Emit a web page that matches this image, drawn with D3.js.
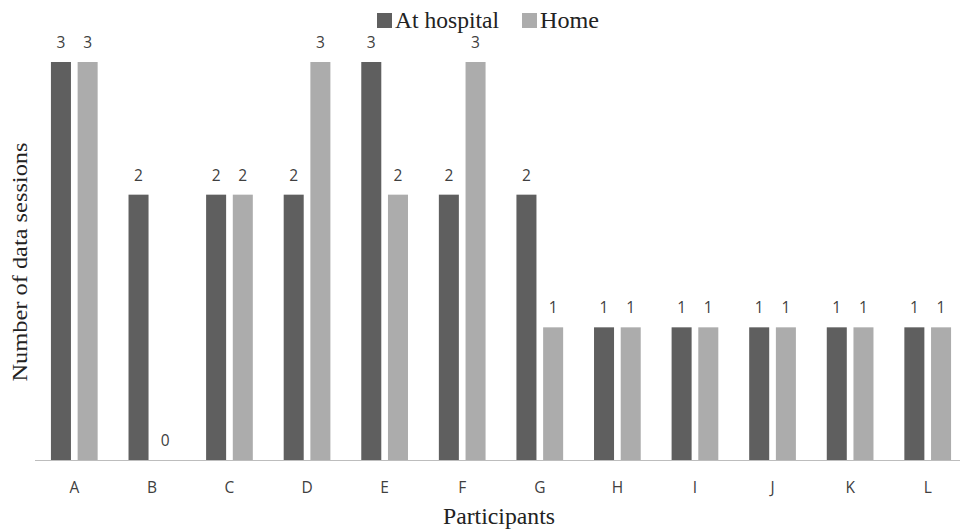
<!DOCTYPE html>
<html><head><meta charset="utf-8">
<script src="https://cdn.jsdelivr.net/npm/d3@7"></script>
<style>body{margin:0;background:#fff}</style>
</head><body>
<svg id="c" width="960" height="529"></svg>
<script>
const categories = ["A","B","C","D","E","F","G","H","I","J","K","L"];
const seriesNames = ["At hospital","Home"];
const atHospital = [3,2,2,2,3,2,2,1,1,1,1,1];
const home = [3,0,2,3,2,3,1,1,1,1,1,1];
const colors = ["#5f5f5f","#acacac"];

const svg = d3.select("#c");
const x0 = d3.scaleBand().domain(categories).range([35.5, 966.5]).paddingInner(0.398).paddingOuter(0.199);
const x1 = d3.scaleBand().domain(seriesNames).range([0, x0.bandwidth()]).paddingInner(0.25);
const y = d3.scaleLinear().domain([0,3]).range([460, 62]);

const data = categories.map((c,i)=>({cat:c, vals:[atHospital[i], home[i]]}));

const g = svg.append("g");
const grp = g.selectAll("g.grp").data(data).enter().append("g")
  .attr("transform", d=>`translate(${x0(d.cat)},0)`);
grp.selectAll("rect").data(d=>d.vals.map((v,j)=>({v, s:seriesNames[j], j})))
  .enter().append("rect")
  .attr("x", d=>x1(d.s)).attr("width", x1.bandwidth())
  .attr("y", d=>y(d.v)).attr("height", d=>y(0)-y(d.v))
  .attr("fill", d=>colors[d.j]);
grp.selectAll("text").data(d=>d.vals.map((v,j)=>({v, s:seriesNames[j], j})))
  .enter().append("text")
  .attr("x", d=>x1(d.s)+x1.bandwidth()/2).attr("y", d=>y(d.v)-14)
  .attr("text-anchor","middle")
  .attr("font-family","Open Sans, sans-serif").attr("font-size",15.5).attr("fill","#404040")
  .text(d=>d.v);

// axis line
svg.append("line").attr("x1",35).attr("x2",960).attr("y1",460.5).attr("y2",460.5)
  .attr("stroke","#bdbdbd").attr("stroke-width",1.2);

const xAxis = d3.axisBottom(x0).tickSize(0).tickPadding(0);
const ax = svg.append("g").attr("transform","translate(0,460)").call(xAxis);
ax.select(".domain").remove();
ax.selectAll("text").attr("dy",null).attr("y",33)
  .attr("font-family","Open Sans, sans-serif").attr("font-size",15.5).attr("fill","#404040");

svg.append("text").attr("x",499).attr("y",524).attr("text-anchor","middle")
  .attr("font-family","Liberation Serif, serif").attr("font-size",23).attr("fill","#222")
  .attr("textLength",112).attr("lengthAdjust","spacingAndGlyphs")
  .text("Participants");
svg.append("text").attr("transform","translate(27,262) rotate(-90)").attr("text-anchor","middle")
  .attr("font-family","Liberation Serif, serif").attr("font-size",22).attr("fill","#222")
  .attr("textLength",239).attr("lengthAdjust","spacingAndGlyphs")
  .text("Number of data sessions");

// legend
const leg = svg.append("g");
const legX = [377, 522];
const legW = [104, 59];
seriesNames.forEach((s,i)=>{
  leg.append("rect").attr("x",legX[i]).attr("y",13).attr("width",15).attr("height",15).attr("fill",colors[i]);
  leg.append("text").attr("x",legX[i]+18).attr("y",28)
    .attr("font-family","Liberation Serif, serif").attr("font-size",23).attr("fill","#222")
    .attr("textLength",legW[i]).attr("lengthAdjust","spacingAndGlyphs").text(s);
});
</script>
</body></html>
